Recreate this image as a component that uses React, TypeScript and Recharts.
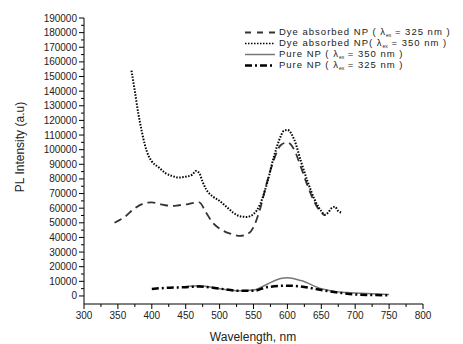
import React from 'react';
import { LineChart, Line, XAxis, YAxis } from 'recharts';

// Dye absorbed NP (λex = 325 nm) - dashed
const dye325Wl = [345, 360, 375, 390, 400, 410, 420, 430, 440, 450, 460, 470, 480, 490, 500, 510, 520, 530, 540, 550, 560, 570, 580, 590, 600, 610, 620, 630, 640, 650, 655];
const dye325Val = [50000, 54000, 60000, 63500, 64000, 63000, 62000, 61500, 62000, 62500, 63500, 64000, 57000, 50000, 46000, 43500, 42000, 41000, 42000, 47000, 60000, 78000, 93000, 103000, 105000, 100000, 88000, 75000, 64000, 57000, 55000];

// Dye absorbed NP (λex = 350 nm) - dotted
const dye350Wl = [370, 375, 380, 385, 390, 395, 400, 410, 420, 430, 440, 450, 460, 465, 470, 475, 480, 490, 500, 510, 520, 530, 540, 550, 560, 570, 580, 590, 595, 600, 610, 620, 630, 640, 650, 655, 660, 665, 670, 675, 680];
const dye350Val = [154000, 140000, 125000, 113000, 103000, 96000, 92000, 88000, 84000, 82000, 81000, 81500, 83000, 85500, 84000, 78000, 73000, 68000, 65000, 61000, 57000, 54500, 54000, 56000, 63000, 77000, 95000, 109000, 113000, 113500, 107000, 92000, 78000, 66000, 58000, 55500, 57000, 60000, 61000, 58000, 57000];

// Pure NP (λex = 350 nm) - solid gray
const pure350Wl = [450, 470, 500, 530, 550, 570, 590, 600, 620, 650, 680, 700, 750];
const pure350Val = [6500, 7000, 5000, 3500, 4000, 8000, 12000, 12500, 10500, 5000, 2500, 2000, 1000];

// Pure NP (λex = 325 nm) - dash-dot
const pure325Wl = [400, 420, 450, 470, 500, 530, 550, 570, 600, 620, 650, 680, 700, 750];
const pure325Val = [4800, 5500, 6000, 6500, 5000, 3500, 3500, 6000, 7000, 6500, 4000, 2000, 1000, 500];

const xTicks = Array.from({ length: 21 }, (_, i) => 300 + i * 25);
const yTicks = Array.from({ length: 39 }, (_, i) => i * 5000);

const toRows = (wl: number[], val: number[]) => wl.map((w, i) => ({ x: w, y: val[i] }));

const FONT = 'Arial, "Liberation Sans", sans-serif';

const YTick = (props: any) => {
  const { x, y, payload } = props;
  const major = payload.value % 10000 === 0;
  return (
    <g>
      <line x1={x} x2={x - (major ? 5 : 3)} y1={y} y2={y} stroke="#000" strokeWidth={1} />
      {major && (
        <text x={x - 7} y={y} dy={3.5} textAnchor="end" fontSize={10} fontFamily={FONT} fill="#222">
          {payload.value}
        </text>
      )}
    </g>
  );
};

const XTick = (props: any) => {
  const { x, y, payload } = props;
  const major = payload.value % 50 === 0;
  return (
    <g>
      <line x1={x} x2={x} y1={y} y2={y + (major ? 5 : 3)} stroke="#000" strokeWidth={1} />
      {major && (
        <text x={x} y={y + 15} textAnchor="middle" fontSize={10} fontFamily={FONT} fill="#222">
          {payload.value}
        </text>
      )}
    </g>
  );
};

const legendItems = [
  { pre: 'Dye absorbed NP ( λ', post: ' = 325 nm )', stroke: '#333', width: 2, dash: '6 6' },
  { pre: 'Dye absorbed NP( λ', post: ' = 350 nm )', stroke: '#000', width: 1.5, dash: '1.5 1.5' },
  { pre: 'Pure NP ( λ', post: ' = 350 nm )', stroke: '#777', width: 1.5, dash: undefined },
  { pre: 'Pure NP ( λ', post: ' = 325 nm )', stroke: '#000', width: 2.5, dash: '7 3 2 3' },
];

export default function App() {
  return (
    <div style={{ position: 'absolute', left: 0, top: 0, width: 463, height: 344, background: '#fff' }}>
      <LineChart width={463} height={344} margin={{ top: 18, right: 40, bottom: 10, left: 24 }}>
        <XAxis
          type="number"
          dataKey="x"
          domain={[300, 800]}
          ticks={xTicks}
          interval={0}
          tickSize={0}
          tickMargin={0}
          tick={<XTick />}
          height={30}
          stroke="#000"
          allowDataOverflow
        />
        <YAxis
          type="number"
          dataKey="y"
          domain={[-5500, 190000]}
          ticks={yTicks}
          interval={0}
          tickSize={0}
          tickMargin={0}
          tick={<YTick />}
          width={60}
          stroke="#000"
          allowDataOverflow
        />
        <Line data={toRows(dye325Wl, dye325Val)} dataKey="y" type="monotone" stroke="#333" strokeWidth={1.8} strokeDasharray="8 5" dot={false} isAnimationActive={false} />
        <Line data={toRows(dye350Wl, dye350Val)} dataKey="y" type="monotone" stroke="#000" strokeWidth={2} strokeDasharray="1.5 1.5" dot={false} isAnimationActive={false} />
        <Line data={toRows(pure350Wl, pure350Val)} dataKey="y" type="monotone" stroke="#777" strokeWidth={1.5} dot={false} isAnimationActive={false} />
        <Line data={toRows(pure325Wl, pure325Val)} dataKey="y" type="monotone" stroke="#000" strokeWidth={2.5} strokeDasharray="7 3 2 3" dot={false} isAnimationActive={false} />
      </LineChart>

      {/* axis titles */}
      <div style={{ position: 'absolute', left: 253, top: 330, transform: 'translateX(-50%)', fontFamily: FONT, fontSize: 12, color: '#222', whiteSpace: 'nowrap' }}>
        Wavelength, nm
      </div>
      <div style={{ position: 'absolute', left: 20, top: 147, transform: 'translate(-50%, -50%) rotate(-90deg)', fontFamily: FONT, fontSize: 12, color: '#222', whiteSpace: 'nowrap' }}>
        PL Intensity (a.u)
      </div>

      {/* legend */}
      <div style={{ position: 'absolute', left: 244, top: 27, fontFamily: FONT, fontSize: 9.5, lineHeight: '11px', letterSpacing: 1, color: '#222' }}>
        {legendItems.map((it, i) => (
          <div key={i} style={{ display: 'flex', alignItems: 'center', height: 11, whiteSpace: 'nowrap' }}>
            <svg width={32} height={9} style={{ marginRight: 3 }}>
              <line x1={1} x2={31} y1={4.5} y2={4.5} stroke={it.stroke} strokeWidth={it.width} strokeDasharray={it.dash} />
            </svg>
            <span>
              {it.pre}
              <span style={{ fontSize: 5, letterSpacing: 0, position: 'relative', top: 1.5 }}>ex</span>
              {it.post}
            </span>
          </div>
        ))}
      </div>
    </div>
  );
}
